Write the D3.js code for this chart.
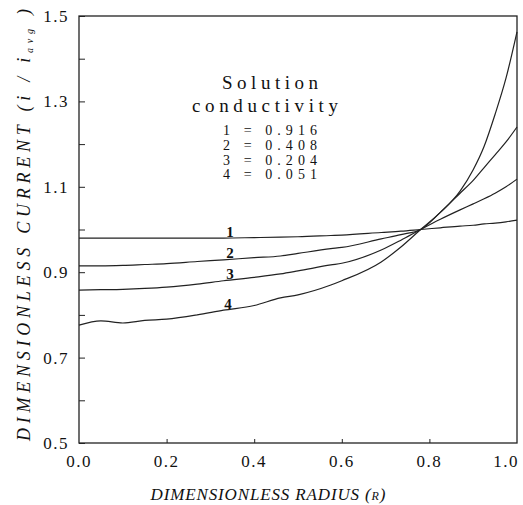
<!DOCTYPE html>
<html>
<head>
<meta charset="utf-8">
<script src="https://cdn.jsdelivr.net/npm/d3@7"></script>
<style>
  html, body { margin: 0; padding: 0; background: #fff; }
  svg { display: block; }
  text { fill: #111; }
</style>
</head>
<body>
<svg id="chart" width="523" height="505"></svg>
<script>
// Radial current distribution for four solution conductivities
const radius = [0, 0.05, 0.1, 0.15, 0.2, 0.27, 0.33, 0.4, 0.46, 0.5, 0.575, 0.6, 0.69, 0.735, 0.78, 0.825, 0.87, 0.9, 0.925, 0.95, 0.975, 1.0];

const current1 = [0.980, 0.980, 0.980, 0.980, 0.980, 0.980, 0.980, 0.981, 0.982, 0.983, 0.986, 0.987, 0.993, 0.996, 1.000, 1.004, 1.008, 1.010, 1.013, 1.015, 1.018, 1.022];
const current2 = [0.915, 0.915, 0.916, 0.918, 0.920, 0.925, 0.929, 0.934, 0.938, 0.944, 0.955, 0.958, 0.978, 0.988, 1.000, 1.040, 1.085, 1.115, 1.145, 1.175, 1.205, 1.240];
const current3 = [0.858, 0.859, 0.860, 0.862, 0.865, 0.872, 0.880, 0.888, 0.896, 0.903, 0.917, 0.921, 0.952, 0.975, 1.000, 1.024, 1.046, 1.060, 1.072, 1.085, 1.100, 1.118];
const current4 = [0.776, 0.786, 0.781, 0.787, 0.790, 0.800, 0.811, 0.822, 0.840, 0.847, 0.870, 0.880, 0.924, 0.959, 1.000, 1.040, 1.090, 1.140, 1.195, 1.270, 1.355, 1.463];

const seriesNames = ["1", "2", "3", "4"];
const conductivity = ["0.916", "0.408", "0.204", "0.051"];
const labelAt = [0.345, 0.345, 0.345, 0.34];

const xTicks = [0, 0.2, 0.4, 0.6, 0.8, 1.0];
const yTicks = [0.5, 0.7, 0.9, 1.1, 1.3, 1.5];
const yMinor = [0.6, 0.8, 1.0, 1.2, 1.4];

const svg = d3.select("#chart");
const margin = { left: 79, right: 6, top: 16, bottom: 62 };
const W = 523, H = 505;

const x = d3.scaleLinear().domain([0, 1]).range([margin.left, W - margin.right]);
const y = d3.scaleLinear().domain([0.5, 1.5]).range([H - margin.bottom, margin.top]);

const serif = "'Liberation Serif', 'DejaVu Serif', serif";
const ink = "#222";

// frame
svg.append("rect")
  .attr("x", x(0)).attr("y", y(1.5))
  .attr("width", x(1) - x(0)).attr("height", y(0.5) - y(1.5))
  .attr("fill", "none").attr("stroke", ink).attr("stroke-width", 1.3);

// inward ticks on the left and bottom
const yAxis = d3.axisRight(y).tickValues(yTicks.concat(yMinor)).tickSize(6).tickFormat("");
svg.append("g").attr("transform", `translate(${x(0)},0)`).call(yAxis)
  .call(g => g.select(".domain").remove())
  .selectAll("line").attr("stroke", ink).attr("stroke-width", 1);

const xAxis = d3.axisTop(x).tickValues([0.2, 0.4, 0.6, 0.8]).tickSize(4).tickFormat("");
svg.append("g").attr("transform", `translate(0,${y(0.5)})`).call(xAxis)
  .call(g => g.select(".domain").remove())
  .selectAll("line").attr("stroke", ink).attr("stroke-width", 1);

// tick labels
svg.append("g").selectAll("text").data(yTicks).join("text")
  .attr("x", 69).attr("y", d => y(d) + 6)
  .attr("text-anchor", "end")
  .attr("font-family", serif).attr("font-size", 17)
  .attr("letter-spacing", 1.5)
  .text(d => d3.format(".1f")(d));

svg.append("g").selectAll("text").data(xTicks).join("text")
  .attr("x", d => Math.min(x(d), 506)).attr("y", 467)
  .attr("text-anchor", "middle")
  .attr("font-family", serif).attr("font-size", 17)
  .attr("letter-spacing", 1.5)
  .text(d => d3.format(".1f")(d));

// curves
const series = [current1, current2, current3, current4];
const line = d3.line()
  .x((d, i) => x(radius[i]))
  .y(d => y(d))
  .curve(d3.curveMonotoneX);

svg.append("g").selectAll("path").data(series).join("path")
  .attr("d", d => line(d))
  .attr("fill", "none")
  .attr("stroke", ink)
  .attr("stroke-width", 1.2);

// curve numbers
const interp = (arr, r) => {
  const i = d3.bisectRight(radius, r) - 1;
  const t = (r - radius[i]) / (radius[i + 1] - radius[i]);
  return arr[i] + t * (arr[i + 1] - arr[i]);
};
svg.append("g").selectAll("text").data(series).join("text")
  .attr("x", (d, i) => x(labelAt[i]))
  .attr("y", (d, i) => y(interp(d, labelAt[i])) - 1)
  .attr("text-anchor", "middle")
  .attr("font-family", serif)
  .attr("font-size", 15).attr("font-weight", "bold")
  .text((d, i) => seriesNames[i]);

// legend block
svg.append("text").attr("x", 270).attr("y", 89)
  .attr("text-anchor", "middle").attr("font-family", serif).attr("font-size", 19)
  .attr("textLength", 96).attr("lengthAdjust", "spacing")
  .text("Solution");
svg.append("text").attr("x", 265).attr("y", 112)
  .attr("text-anchor", "middle").attr("font-family", serif).attr("font-size", 19)
  .attr("textLength", 146).attr("lengthAdjust", "spacing")
  .text("conductivity");
svg.append("g").selectAll("text").data(seriesNames).join("text")
  .attr("x", 270).attr("y", (d, i) => 135 + i * 14.8)
  .attr("text-anchor", "middle")
  .attr("font-family", serif).attr("font-size", 14)
  .attr("textLength", 94).attr("lengthAdjust", "spacing")
  .text((d, i) => `${d} = ${conductivity[i]}`);

// axis titles
const xt = svg.append("text").attr("x", 268).attr("y", 500)
  .attr("text-anchor", "middle")
  .attr("font-family", serif).attr("font-style", "italic").attr("font-size", 17)
  .attr("textLength", 235).attr("lengthAdjust", "spacing");
xt.append("tspan").text("DIMENSIONLESS  RADIUS  (");
xt.append("tspan").attr("font-size", 12).text("R");
xt.append("tspan").text(")");

const yt = svg.append("text")
  .attr("transform", "translate(30,225) rotate(-90)")
  .attr("text-anchor", "middle")
  .attr("font-family", serif).attr("font-style", "italic").attr("font-size", 18)
  .attr("textLength", 432).attr("lengthAdjust", "spacing");
yt.append("tspan").text("DIMENSIONLESS  CURRENT  (");
yt.append("tspan").text("i / i");
yt.append("tspan").attr("font-size", 10).attr("dy", 3).text("avg");
yt.append("tspan").attr("dy", -3).text(" )");
</script>
</body>
</html>
